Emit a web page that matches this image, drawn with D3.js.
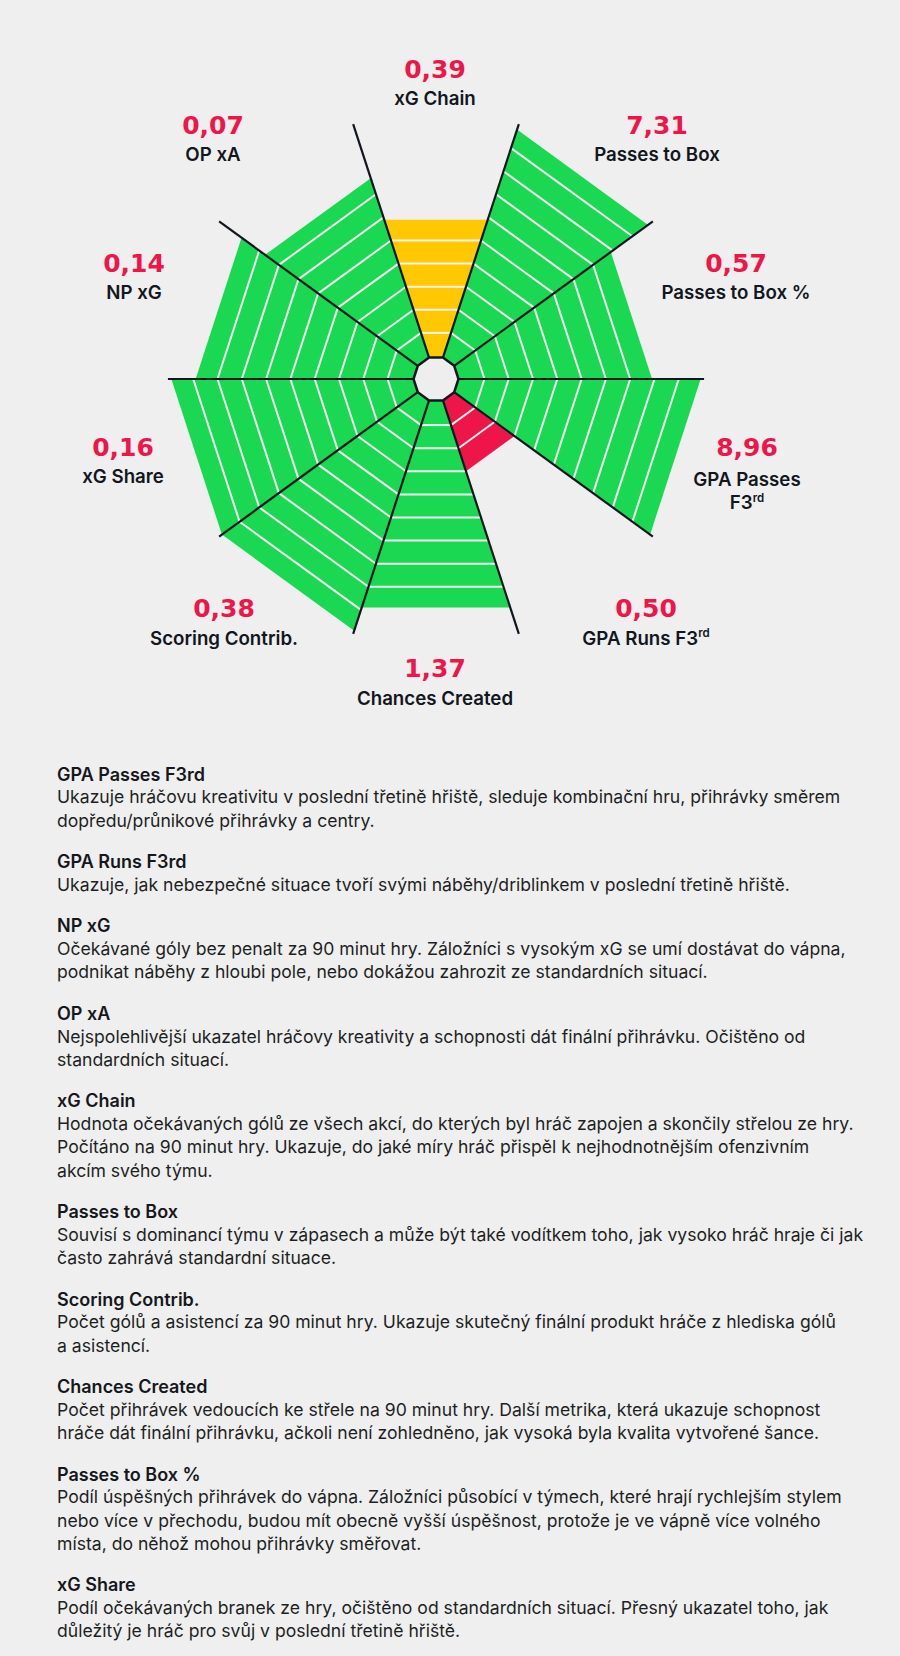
<!DOCTYPE html>
<html><head><meta charset="utf-8">
<script src="https://cdn.jsdelivr.net/npm/d3@7"></script>
<style>
html,body{margin:0;padding:0;background:#efefef;}
svg{display:block;}
</style></head><body>
<svg id="c" width="900" height="1656"></svg>
<script>
// ---------- data ----------
const categories = ["xG Chain","Passes to Box","Passes to Box %","GPA Passes F3rd","GPA Runs F3rd","Chances Created","Scoring Contrib.","xG Share","NP xG","OP xA"];
const rawValues = [0.39, 7.31, 0.57, 8.96, 0.50, 1.37, 0.38, 0.16, 0.14, 0.07];
const percentiles = [59, 98, 79, 99, 30, 89, 99, 99, 89, 77];
const labelLines = [["xG Chain"],["Passes to Box"],["Passes to Box %"],["GPA Passes","F3rd"],["GPA Runs F3rd"],["Chances Created"],["Scoring Contrib."],["xG Share"],["NP xG"],["OP xA"]];
const levelTicks = [10,20,30,40,50,60,70,80,90];

const descTitles = ["GPA Passes F3rd","GPA Runs F3rd","NP xG","OP xA","xG Chain","Passes to Box","Scoring Contrib.","Chances Created","Passes to Box %","xG Share"];
const descLines = [
 ["Ukazuje hráčovu kreativitu v poslední třetině hřiště, sleduje kombinační hru, přihrávky směrem","dopředu/průnikové přihrávky a centry."],
 ["Ukazuje, jak nebezpečné situace tvoří svými náběhy/driblinkem v poslední třetině hřiště."],
 ["Očekávané góly bez penalt za 90 minut hry. Záložníci s vysokým xG se umí dostávat do vápna,","podnikat náběhy z hloubi pole, nebo dokážou zahrozit ze standardních situací."],
 ["Nejspolehlivější ukazatel hráčovy kreativity a schopnosti dát finální přihrávku. Očištěno od","standardních situací."],
 ["Hodnota očekávaných gólů ze všech akcí, do kterých byl hráč zapojen a skončily střelou ze hry.","Počítáno na 90 minut hry. Ukazuje, do jaké míry hráč přispěl k nejhodnotnějším ofenzivním","akcím svého týmu."],
 ["Souvisí s dominancí týmu v zápasech a může být také vodítkem toho, jak vysoko hráč hraje či jak","často zahrává standardní situace."],
 ["Počet gólů a asistencí za 90 minut hry. Ukazuje skutečný finální produkt hráče z hlediska gólů","a asistencí."],
 ["Počet přihrávek vedoucích ke střele na 90 minut hry. Další metrika, která ukazuje schopnost","hráče dát finální přihrávku, ačkoli není zohledněno, jak vysoká byla kvalita vytvořené šance."],
 ["Podíl úspěšných přihrávek do vápna. Záložníci působící v týmech, které hrají rychlejším stylem","nebo více v přechodu, budou mít obecně vyšší úspěšnost, protože je ve vápně více volného","místa, do něhož mohou přihrávky směřovat."],
 ["Podíl očekávaných branek ze hry, očištěno od standardních situací. Přesný ukazatel toho, jak","důležitý je hráč pro svůj v poslední třetině hřiště."]
];

// ---------- layout / style ----------
const W = 900, H = 1656;
const cx = 436, cy = 379;
const GREEN = "#1ad851", YELLOW = "#ffc800", RED = "#ee1549", DARK = "#121620", STRIPE = "#f3f3f1", BG = "#efefef";
const hubR = 22.5;

const svg = d3.select("#c").attr("viewBox", `0 0 ${W} ${H}`);
svg.append("rect").attr("width", W).attr("height", H).attr("fill", BG);

const fmt = d3.formatLocale({decimal: ",", thousands: " ", grouping: [3], currency: ["", " Kč"]}).format(".2f");

const aScale = d3.scaleBand().domain(categories).range([-Math.PI/10, 2*Math.PI - Math.PI/10]);
const bw = aScale.bandwidth();
const rScale = d3.scaleLinear().domain([0, 100]).range([23, 254]); // apothem of the polygonal bar
const color = d3.scaleThreshold().domain([40, 66]).range([RED, YELLOW, GREEN]);
const kCorner = 1 / Math.cos(bw / 2);

function pt(a, r) { return [cx + r * Math.sin(a), cy - r * Math.cos(a)]; }

const g = svg.append("g");
const data = categories.map((c, i) => ({c, i, p: percentiles[i], v: rawValues[i], a0: aScale(c), a1: aScale(c) + bw}));

// bars
g.selectAll("path.bar").data(data).join("path")
  .attr("class", "bar")
  .attr("fill", d => color(d.p))
  .attr("d", d => {
    const ro = rScale(d.p) * kCorner;
    const pts = [pt(d.a0, hubR * 0.9), pt(d.a1, hubR * 0.9), pt(d.a1, ro), pt(d.a0, ro)];
    return d3.line()(pts) + "Z";
  });

// stripes
const stripes = [];
data.forEach(d => levelTicks.forEach(t => { if (t < d.p) stripes.push({d, t}); }));
g.selectAll("line.stripe").data(stripes).join("line")
  .attr("class", "stripe")
  .attr("stroke", STRIPE).attr("stroke-width", 2)
  .each(function(s) {
    const r = rScale(s.t) * kCorner;
    const p0 = pt(s.d.a0, r), p1 = pt(s.d.a1, r);
    d3.select(this).attr("x1", p0[0]).attr("y1", p0[1]).attr("x2", p1[0]).attr("y2", p1[1]);
  });

// spokes
const spokeLen = rScale(100) * kCorner + 1;
g.selectAll("line.spoke").data(data).join("line")
  .attr("class", "spoke")
  .attr("stroke", DARK).attr("stroke-width", 2.2)
  .each(function(d) {
    const p0 = pt(d.a0, hubR), p1 = pt(d.a0, spokeLen);
    d3.select(this).attr("x1", p0[0]).attr("y1", p0[1]).attr("x2", p1[0]).attr("y2", p1[1]);
  });

// hub
g.append("path")
  .attr("d", d3.line()(data.map(d => pt(d.a0, hubR))) + "Z")
  .attr("fill", "#eeeeee").attr("stroke", DARK).attr("stroke-width", 2.5).attr("stroke-linejoin", "miter");

// labels: placed around a rounded frame, with alternate labels staggered in/out
function labelPos(t) {
  const s = Math.sin(t);
  const sg = Math.abs(s) < 1e-6 ? 0 : Math.sign(s);
  const x = cx + 335 * s + 20.6 * Math.sin(3 * t) - 5.5 * sg * Math.cos(5 * t) - 1;
  const y = cy + 4.5 - 299 * Math.cos(t) - 0.65 * Math.cos(3 * t) - 17 * Math.pow(s, 4);
  return [x, y];
}
function addLine(sel, txt) {
  const m = txt.match(/^(.*F3)(rd)$/);
  if (m) {
    sel.append("tspan").text(m[1]);
    sel.append("tspan").text(m[2]).attr("font-size", 11.5).attr("dy", -7.5);
  } else sel.text(txt);
}
const lab = g.selectAll("g.lab").data(data).join("g").attr("class", "lab")
  .attr("transform", d => { const p = labelPos(d.a0 + bw / 2); return `translate(${p[0]},${p[1]})`; });
lab.append("text")
  .attr("text-anchor", "middle")
  .attr("y", -14.75 + 9)
  .attr("font-family", "DejaVu Sans")
  .attr("font-weight", "bold")
  .attr("font-size", 25)
  .attr("fill", RED)
  .text(d => fmt(d.v));
lab.each(function(d) {
  const sel = d3.select(this);
  const lines = labelLines[d.i];
  const extra = lines.length > 1 ? 3.5 : 0;
  lines.forEach((ln, k) => {
    const t = sel.append("text")
      .attr("text-anchor", "middle")
      .attr("y", 14.75 + 6.7 + extra + k * 23)
      .attr("font-family", "Inter")
      .attr("font-weight", 600)
      .attr("font-size", 18.7)
      .attr("fill", DARK);
    addLine(t, ln);
  });
});

// descriptions
const lineH = 23.1, gap = 18.2, x0 = 57;
let yc = 774;
const desc = svg.append("g");
descTitles.forEach((title, i) => {
  desc.append("text").attr("x", x0).attr("y", yc + 6.5)
    .attr("font-family", "Inter").attr("font-weight", 600).attr("font-size", 18).attr("fill", "#15171c")
    .text(title);
  descLines[i].forEach((ln, k) => {
    desc.append("text").attr("x", x0).attr("y", yc + (k + 1) * lineH + 6.3)
      .attr("font-family", "Inter").attr("font-weight", 400).attr("font-size", 17.6).attr("fill", "#1d1f24")
      .text(ln);
  });
  yc += (descLines[i].length + 1) * lineH + gap;
});
</script>
</body></html>
